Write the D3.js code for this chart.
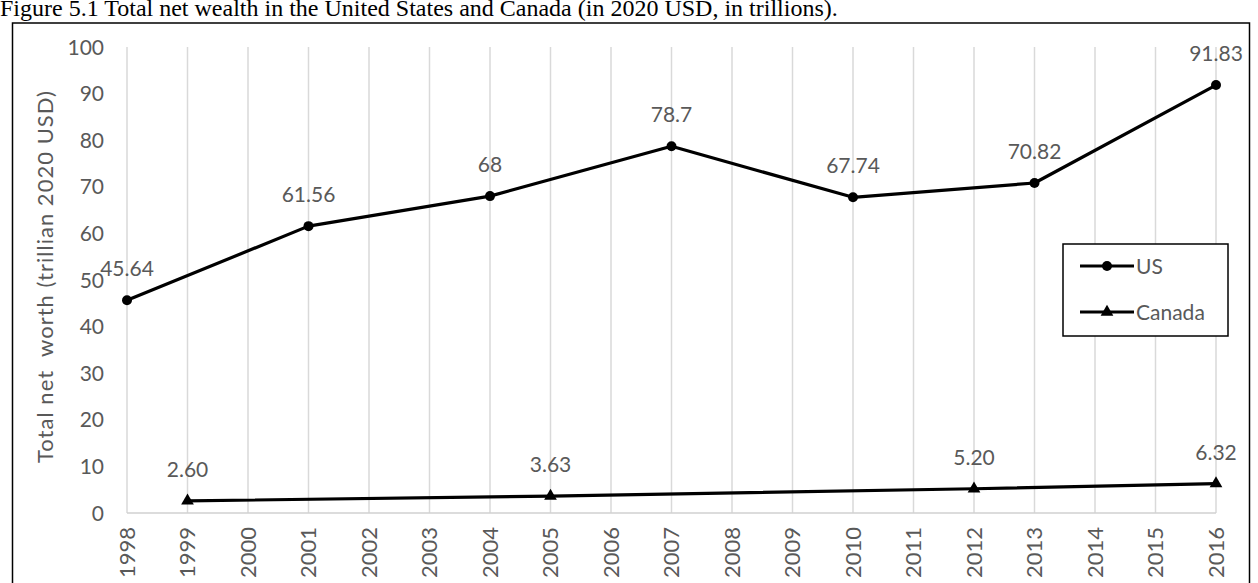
<!DOCTYPE html>
<html>
<head>
<meta charset="utf-8">
<script src="https://cdnjs.cloudflare.com/ajax/libs/d3/7.8.5/d3.min.js"></script>
<style>
  html, body { margin: 0; padding: 0; background: #fff; }
  svg { display: block; }
  .lbl { font-family: Lato, "Open Sans", sans-serif; fill: #595959; }
</style>
</head>
<body>
<svg id="chart" width="1258" height="583"></svg>
<script>
// Total net wealth, trillions of 2020 USD
const years = d3.range(1998, 2017);
const yTicks = [0, 10, 20, 30, 40, 50, 60, 70, 80, 90, 100];

const usYears = [1998, 2001, 2004, 2007, 2010, 2013, 2016];
const usValues = [45.64, 61.56, 68, 78.7, 67.74, 70.82, 91.83];
const usLabels = ["45.64", "61.56", "68", "78.7", "67.74", "70.82", "91.83"];

const caYears = [1999, 2005, 2012, 2016];
const caValues = [2.60, 3.63, 5.20, 6.32];
const caLabels = ["2.60", "3.63", "5.20", "6.32"];

const seriesNames = ["US", "Canada"];
const titleText = "Figure 5.1 Total net wealth in the United States and Canada (in 2020 USD, in trillions).";
const yTitleText = "Total net  worth (trillian 2020 USD)";

const svg = d3.select("#chart");
const fontSize = 21;

// caption above the chart frame
svg.append("text")
  .attr("x", 0).attr("y", 16)
  .attr("font-family", "'Liberation Serif', 'Times New Roman', serif")
  .attr("font-size", 24)
  .attr("fill", "#000")
  .text(titleText);

// chart frame
svg.append("rect")
  .attr("x", 12.5).attr("y", 23)
  .attr("width", 1237).attr("height", 620)
  .attr("fill", "none").attr("stroke", "#000").attr("stroke-width", 1.5);

const x = d3.scaleLinear().domain([1998, 2016]).range([127, 1216]);
const y = d3.scaleLinear().domain([0, 100]).range([513, 47]);

// vertical gridlines
svg.append("g")
  .selectAll("line").data(years).join("line")
  .attr("x1", d => x(d)).attr("x2", d => x(d))
  .attr("y1", y(100)).attr("y2", y(0))
  .attr("stroke", "#d9d9d9").attr("stroke-width", 1.5);

// x baseline
svg.append("line")
  .attr("x1", x(1998)).attr("x2", x(2016))
  .attr("y1", y(0)).attr("y2", y(0))
  .attr("stroke", "#d0d0d0").attr("stroke-width", 1.5);

// y tick labels
svg.append("g")
  .selectAll("text").data(yTicks).join("text")
  .attr("class", "lbl")
  .attr("x", 104).attr("y", d => y(d))
  .attr("dy", "0.36em")
  .attr("text-anchor", "end")
  .attr("font-size", fontSize)
  .text(d => d);

// x tick labels, rotated
svg.append("g")
  .selectAll("text").data(years).join("text")
  .attr("class", "lbl")
  .attr("transform", d => `translate(${x(d)},527) rotate(-90)`)
  .attr("dy", "0.36em")
  .attr("text-anchor", "end")
  .attr("font-size", fontSize + 1)
  .text(d => d);

// y axis title
svg.append("text")
  .attr("class", "lbl")
  .attr("transform", `translate(53,277) rotate(-90)`)
  .attr("text-anchor", "middle")
  .attr("font-size", fontSize + 1)
  .attr("textLength", 372)
  .attr("lengthAdjust", "spacing")
  .style("white-space", "pre")
  .text(yTitleText);

const line = d3.line().x(d => x(d[0])).y(d => y(d[1]));
const usData = usYears.map((yr, i) => [yr, usValues[i], usLabels[i]]);
const caData = caYears.map((yr, i) => [yr, caValues[i], caLabels[i]]);

// US series
svg.append("path").datum(usData)
  .attr("d", line).attr("fill", "none")
  .attr("stroke", "#000").attr("stroke-width", 3.2).attr("stroke-linejoin", "round");
svg.append("g").selectAll("circle").data(usData).join("circle")
  .attr("cx", d => x(d[0])).attr("cy", d => y(d[1])).attr("r", 5).attr("fill", "#000");

// Canada series
svg.append("path").datum(caData)
  .attr("d", line).attr("fill", "none")
  .attr("stroke", "#000").attr("stroke-width", 3.2).attr("stroke-linejoin", "round");
const tri = d3.symbol().type(d3.symbolTriangle).size(70);
svg.append("g").selectAll("path").data(caData).join("path")
  .attr("transform", d => `translate(${x(d[0])},${y(d[1])})`)
  .attr("d", tri).attr("fill", "#000");

// data labels
svg.append("g").selectAll("text").data(usData.concat(caData)).join("text")
  .attr("class", "lbl")
  .attr("x", d => x(d[0])).attr("y", d => y(d[1]) - 24)
  .attr("text-anchor", "middle")
  .attr("font-size", fontSize)
  .text(d => d[2]);

// legend
const lg = svg.append("g");
lg.append("rect")
  .attr("x", 1063).attr("y", 244).attr("width", 165).attr("height", 92)
  .attr("fill", "#fff").attr("stroke", "#000").attr("stroke-width", 1.5);
const legendY = [266, 312];
seriesNames.forEach((name, i) => {
  const ly = legendY[i];
  lg.append("line")
    .attr("x1", 1080).attr("x2", 1134).attr("y1", ly).attr("y2", ly)
    .attr("stroke", "#000").attr("stroke-width", 3.2);
  if (i === 0) {
    lg.append("circle").attr("cx", 1107).attr("cy", ly).attr("r", 5).attr("fill", "#000");
  } else {
    lg.append("path").attr("transform", `translate(1107,${ly})`).attr("d", tri).attr("fill", "#000");
  }
  lg.append("text")
    .attr("class", "lbl")
    .attr("x", 1136).attr("y", ly).attr("dy", "0.36em")
    .attr("font-size", fontSize)
    .text(name);
});
</script>
</body>
</html>
